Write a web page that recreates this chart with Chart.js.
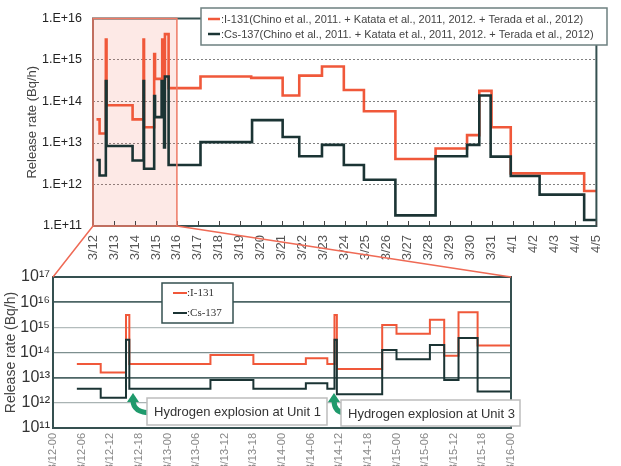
<!DOCTYPE html>
<html><head><meta charset="utf-8">
<script src="https://cdn.jsdelivr.net/npm/chart.js@4.4.1/dist/chart.umd.min.js"></script>
<style>
html,body{margin:0;padding:0;background:#fff;}
#wrap{position:relative;width:621px;height:466px;overflow:hidden;background:#fff;}
canvas{position:absolute;left:0;top:0;}
</style></head><body>
<div id="wrap"><canvas id="topChart" width="621" height="466"></canvas><canvas id="bottomChart" width="621" height="466"></canvas></div>
<script>
// ---- data: hours since 3/12 00:00 and release rate (Bq/h); each value holds until the next hour ----
// main chart (3/12 - 4/5)
const i131Hours  = [4, 7.5, 14.7, 15.5, 45.3, 57.8, 58.4, 70, 71, 79.2, 81.3, 82.3, 86.5, 123, 181, 217, 236, 262, 287, 310, 346, 392, 428, 442, 456, 478, 562, 576];
const i131Values = [3.7e13, 1.7e13, 3.1e15, 8.1e13, 3.7e13, 3.1e15, 2.4e13, 1.4e15, 3.5e14, 3.1e15, 3.5e14, 4.2e15, 2.1e14, 4e14, 3.7e14, 1.4e14, 4.2e14, 7e14, 1.9e14, 5.8e13, 4.1e12, 7.4e12, 1.55e13, 1.8e14, 2.4e13, 1.85e12, 7e11, 7e11];
const cs137Hours  = [4, 7.5, 14.7, 15.5, 45.3, 57.8, 58.4, 70, 71, 78.5, 81.3, 82.3, 86.5, 123, 182, 217, 236, 262, 287, 310, 346, 392, 428, 442, 455, 478, 511, 562, 576];
const cs137Values = [3.9e12, 1.65e12, 3.1e14, 8.5e12, 3.8e12, 3.1e14, 2.4e12, 1.35e14, 4.2e13, 3.1e14, 7.8e12, 4e14, 2.95e12, 1.05e13, 3.55e13, 1.4e13, 4.8e12, 9e12, 2.95e12, 1.3e12, 1.8e11, 4.8e12, 9e12, 1.4e14, 4.7e12, 1.6e12, 5.7e11, 1.4e11, 1.4e11];
// detailed inset (3/12 00:00 - 3/16 00:00)
const i131InsetHours  = [5, 10, 15.3, 16, 33, 42, 53, 57.5, 59, 59.5, 69, 72, 79, 82, 85, 89, 96];
const i131InsetValues = [3.5e13, 1.6e13, 3.1e15, 3.5e13, 8e13, 3.5e13, 5.9e13, 3.5e13, 3.1e15, 2.2e13, 1.25e15, 5.5e14, 2e15, 7.5e13, 4e15, 1.9e14, 1.9e14];
const cs137InsetHours  = [5, 10, 15.3, 16, 33, 42, 53, 57.5, 59, 59.5, 69, 72, 79, 82, 85, 89, 96];
const cs137InsetValues = [3.6e12, 1.6e12, 3.2e14, 3.6e12, 8e12, 3.6e12, 6e12, 3.6e12, 3.2e14, 2.2e12, 1.25e14, 5.4e13, 2e14, 8e12, 3.8e14, 2.8e12, 2.8e12];

const topXTickLabels = ["3/12","3/13","3/14","3/15","3/16","3/17","3/18","3/19","3/20","3/21","3/22","3/23","3/24","3/25","3/26","3/27","3/28","3/29","3/30","3/31","4/1","4/2","4/3","4/4","4/5"];
const topXTickStep = 24;
const topYTickValues = [1e11, 1e12, 1e13, 1e14, 1e15, 1e16];
const topYTickLabels = ["1.E+11","1.E+12","1.E+13","1.E+14","1.E+15","1.E+16"];

const bottomXTickLabels = ["3/12-00","3/12-06","3/12-12","3/12-18","3/13-00","3/13-06","3/13-12","3/13-18","3/14-00","3/14-06","3/14-12","3/14-18","3/15-00","3/15-06","3/15-12","3/15-18","3/16-00"];
const bottomXTickStep = 6;
const bottomYTickValues = [1e11, 1e12, 1e13, 1e14, 1e15, 1e16, 1e17];
const bottomYTickLabels = ["10\u00B9\u00B9","10\u00B9\u00B2","10\u00B9\u00B3","10\u00B9\u2074","10\u00B9\u2075","10\u00B9\u2076","10\u00B9\u2077"];

const zoomRangeHours = [0, 96];
const yTitle = "Release rate (Bq/h)";
const topLegendLabels = [":I-131(Chino et al., 2011. + Katata et al., 2011, 2012. + Terada et al., 2012)", ":Cs-137(Chino et al., 2011. + Katata et al., 2011, 2012. + Terada et al., 2012)"];
const bottomLegendLabels = [":I-131", ":Cs-137"];
const annotationLabels = ["Hydrogen explosion at Unit 1", "Hydrogen explosion at Unit 3"];

const RED = '#f0583a';
const DARK = '#1b3434';
const FRAME = '#355050';

function pts(h, v) { return h.map((x, i) => ({x: x, y: v[i]})); }

function makeDatasets(w, ih, iv, ch, cv) {
  return [
    {label: 'Cs-137', data: pts(ch, cv), borderColor: DARK, borderWidth: w, stepped: 'before', pointRadius: 0, fill: false, order: 0},
    {label: 'I-131', data: pts(ih, iv), borderColor: RED, borderWidth: w, stepped: 'before', pointRadius: 0, fill: false, order: 1}
  ];
}

let topChart = null;

const topDecor = {
  id: 'topDecor',
  beforeDatasetsDraw(chart) {
    const {ctx, chartArea: a, scales: {x}} = chart;
    const x0 = x.getPixelForValue(zoomRangeHours[0]), x1 = x.getPixelForValue(zoomRangeHours[1]);
    ctx.save();
    ctx.fillStyle = 'rgba(240,110,90,0.15)';
    ctx.fillRect(x0, a.top, x1 - x0, a.bottom - a.top);
    ctx.restore();
  },
  afterDatasetsDraw(chart) {
    const {ctx, chartArea: a, scales: {x}} = chart;
    ctx.save();
    ctx.strokeStyle = FRAME; ctx.lineWidth = 2;
    ctx.strokeRect(a.left, a.top, a.right - a.left, a.bottom - a.top);
    ctx.lineWidth = 1; ctx.strokeStyle = '#444';
    x.ticks.forEach(t => {
      const px = Math.round(x.getPixelForValue(t.value)) + 0.5;
      ctx.beginPath(); ctx.moveTo(px, a.bottom); ctx.lineTo(px, a.bottom - 5); ctx.stroke();
    });
    const x0 = x.getPixelForValue(zoomRangeHours[0]), x1 = x.getPixelForValue(zoomRangeHours[1]);
    ctx.strokeStyle = '#ef7a66'; ctx.lineWidth = 1.5;
    ctx.strokeRect(x0, a.top, x1 - x0, a.bottom - a.top);
    ctx.fillStyle = '#fff'; ctx.strokeStyle = '#6d8080'; ctx.lineWidth = 1.5;
    ctx.fillRect(201, 8, 406, 37); ctx.strokeRect(201, 8, 406, 37);
    const rows = [[RED, 19], [DARK, 34]];
    ctx.font = '11px "Liberation Sans", Arial, sans-serif';
    ctx.textBaseline = 'middle'; ctx.textAlign = 'left'; ctx.fillStyle = '#444';
    rows.forEach((r, i) => {
      ctx.strokeStyle = r[0]; ctx.lineWidth = 2.5;
      ctx.beginPath(); ctx.moveTo(208, r[1]); ctx.lineTo(220, r[1]); ctx.stroke();
      ctx.fillText(topLegendLabels[i], 221, r[1] + 0.5);
    });
    ctx.restore();
  }
};

function drawArrow(ctx, tipX, tipY, endX, endY) {
  ctx.save();
  ctx.strokeStyle = '#1f9a6c'; ctx.fillStyle = '#1f9a6c';
  ctx.lineWidth = 5; ctx.lineCap = 'butt';
  ctx.beginPath();
  ctx.moveTo(tipX, tipY + 7);
  ctx.quadraticCurveTo(tipX, endY, endX, endY);
  ctx.stroke();
  ctx.beginPath();
  ctx.moveTo(tipX, tipY);
  ctx.lineTo(tipX - 6, tipY + 9);
  ctx.lineTo(tipX + 6, tipY + 9);
  ctx.closePath(); ctx.fill();
  ctx.restore();
}

function drawBox(ctx, x, y, w, h, text) {
  ctx.save();
  ctx.fillStyle = '#fff'; ctx.strokeStyle = '#bdbdbd'; ctx.lineWidth = 1.5;
  ctx.fillRect(x, y, w, h); ctx.strokeRect(x, y, w, h);
  ctx.fillStyle = '#333'; ctx.font = '13px "Liberation Sans", Arial, sans-serif';
  ctx.textBaseline = 'middle'; ctx.textAlign = 'left';
  ctx.fillText(text, x + 7, y + h / 2 + 1);
  ctx.restore();
}

const bottomDecor = {
  id: 'bottomDecor',
  afterDatasetsDraw(chart) {
    const {ctx, chartArea: a} = chart;
    ctx.save();
    ctx.strokeStyle = FRAME; ctx.lineWidth = 2;
    ctx.strokeRect(a.left, a.top, a.right - a.left, a.bottom - a.top);
    ctx.fillStyle = '#fff'; ctx.strokeStyle = FRAME; ctx.lineWidth = 1.5;
    ctx.fillRect(162, 283, 71, 40); ctx.strokeRect(162, 283, 71, 40);
    const rows = [[RED, 293], [DARK, 313]];
    ctx.font = '11px "Liberation Serif", "DejaVu Serif", serif';
    ctx.textBaseline = 'middle'; ctx.textAlign = 'left'; ctx.fillStyle = '#333';
    rows.forEach((r, i) => {
      ctx.strokeStyle = r[0]; ctx.lineWidth = 2;
      ctx.beginPath(); ctx.moveTo(173, r[1]); ctx.lineTo(187, r[1]); ctx.stroke();
      ctx.fillText(bottomLegendLabels[i], 187, r[1] + 0.5);
    });
    ctx.restore();
    drawArrow(ctx, 133, 393, 152, 413);
    drawArrow(ctx, 334, 393, 346, 413);
    drawBox(ctx, 147, 398, 180, 27, annotationLabels[0]);
    drawBox(ctx, 341, 400, 179, 26, annotationLabels[1]);
  },
  afterDraw(chart) {
    if (!topChart) return;
    const {ctx, chartArea: a} = chart;
    const tx = topChart.scales.x, ta = topChart.chartArea;
    ctx.save();
    ctx.strokeStyle = '#ef6a55'; ctx.lineWidth = 1.5;
    ctx.beginPath();
    ctx.moveTo(tx.getPixelForValue(zoomRangeHours[0]), ta.bottom); ctx.lineTo(a.left, a.top);
    ctx.moveTo(tx.getPixelForValue(zoomRangeHours[1]), ta.bottom); ctx.lineTo(a.right, a.top);
    ctx.stroke();
    ctx.restore();
  }
};

topChart = new Chart(document.getElementById('topChart'), {
  type: 'line',
  data: {datasets: makeDatasets(2.6, i131Hours, i131Values, cs137Hours, cs137Values)},
  plugins: [topDecor],
  options: {
    responsive: false, animation: false, events: [],
    layout: {padding: {left: 0, right: 8, top: 5, bottom: 200}},
    plugins: {legend: {display: false}, tooltip: {enabled: false}},
    scales: {
      x: {
        type: 'linear', min: 0, max: (topXTickLabels.length - 1) * topXTickStep,
        afterBuildTicks: s => { s.ticks = topXTickLabels.map((_, i) => ({value: i * topXTickStep})); },
        afterFit: s => { s.height = 40; },
        grid: {display: false, drawTicks: false},
        border: {display: false},
        ticks: {autoSkip: false, maxRotation: 90, minRotation: 90, padding: 9, color: '#555',
          font: {family: '"Liberation Sans", Arial, sans-serif', size: 13},
          callback: (v, i) => topXTickLabels[i]}
      },
      y: {
        type: 'logarithmic', min: topYTickValues[0], max: topYTickValues[topYTickValues.length - 1],
        afterBuildTicks: s => { s.ticks = topYTickValues.map(v => ({value: v})); },
        afterFit: s => { s.width = 93; },
        grid: {color: c => (c.tick && (c.tick.value <= 1e11 || c.tick.value >= 1e16)) ? 'rgba(0,0,0,0)' : '#808080', lineWidth: 1, drawTicks: false},
        border: {display: false, dash: [2, 2]},
        ticks: {padding: 11, color: '#222', font: {family: '"Liberation Sans", Arial, sans-serif', size: 12.5},
          callback: (v, i) => topYTickLabels[i]},
        title: {display: true, text: yTitle, padding: {top: 25, bottom: 0}, color: '#444',
          font: {family: '"Liberation Sans", Arial, sans-serif', size: 13}}
      }
    }
  }
});

const bottomGridColors = {11: 'rgba(0,0,0,0)', 12: '#a9b3b3', 13: '#4d6666', 14: '#7d8f8f', 15: '#b3bcbc', 16: '#4d6666', 17: 'rgba(0,0,0,0)'};

new Chart(document.getElementById('bottomChart'), {
  type: 'line',
  data: {datasets: makeDatasets(2, i131InsetHours, i131InsetValues, cs137InsetHours, cs137InsetValues)},
  plugins: [bottomDecor],
  options: {
    responsive: false, animation: false, events: [],
    layout: {padding: {left: 0, right: 110, top: 277, bottom: 0}},
    plugins: {legend: {display: false}, tooltip: {enabled: false}},
    scales: {
      x: {
        type: 'linear', min: zoomRangeHours[0], max: zoomRangeHours[1],
        afterBuildTicks: s => { s.ticks = bottomXTickLabels.map((_, i) => ({value: i * bottomXTickStep})); },
        afterFit: s => { s.height = 38; },
        grid: {display: false, drawTicks: false},
        border: {display: false},
        ticks: {autoSkip: false, maxRotation: 90, minRotation: 90, padding: 5, color: '#888',
          font: {family: '"Liberation Sans", Arial, sans-serif', size: 11},
          callback: (v, i) => bottomXTickLabels[i]}
      },
      y: {
        type: 'logarithmic', min: bottomYTickValues[0], max: bottomYTickValues[bottomYTickValues.length - 1],
        afterBuildTicks: s => { s.ticks = bottomYTickValues.map(v => ({value: v})); },
        afterFit: s => { s.width = 53; },
        grid: {color: c => c.tick ? bottomGridColors[Math.round(Math.log10(c.tick.value))] : 'rgba(0,0,0,0)',
               lineWidth: c => (c.tick && [13, 16].includes(Math.round(Math.log10(c.tick.value)))) ? 1.8 : 1.2, drawTicks: false},
        border: {display: false},
        ticks: {padding: 3, color: '#333', font: {family: '"Liberation Sans", Arial, sans-serif', size: 16},
          callback: (v, i) => bottomYTickLabels[i]},
        title: {display: true, text: yTitle, padding: {top: 3, bottom: 0}, color: '#444',
          font: {family: '"Liberation Sans", Arial, sans-serif', size: 14}}
      }
    }
  }
});
</script>
</body></html>
